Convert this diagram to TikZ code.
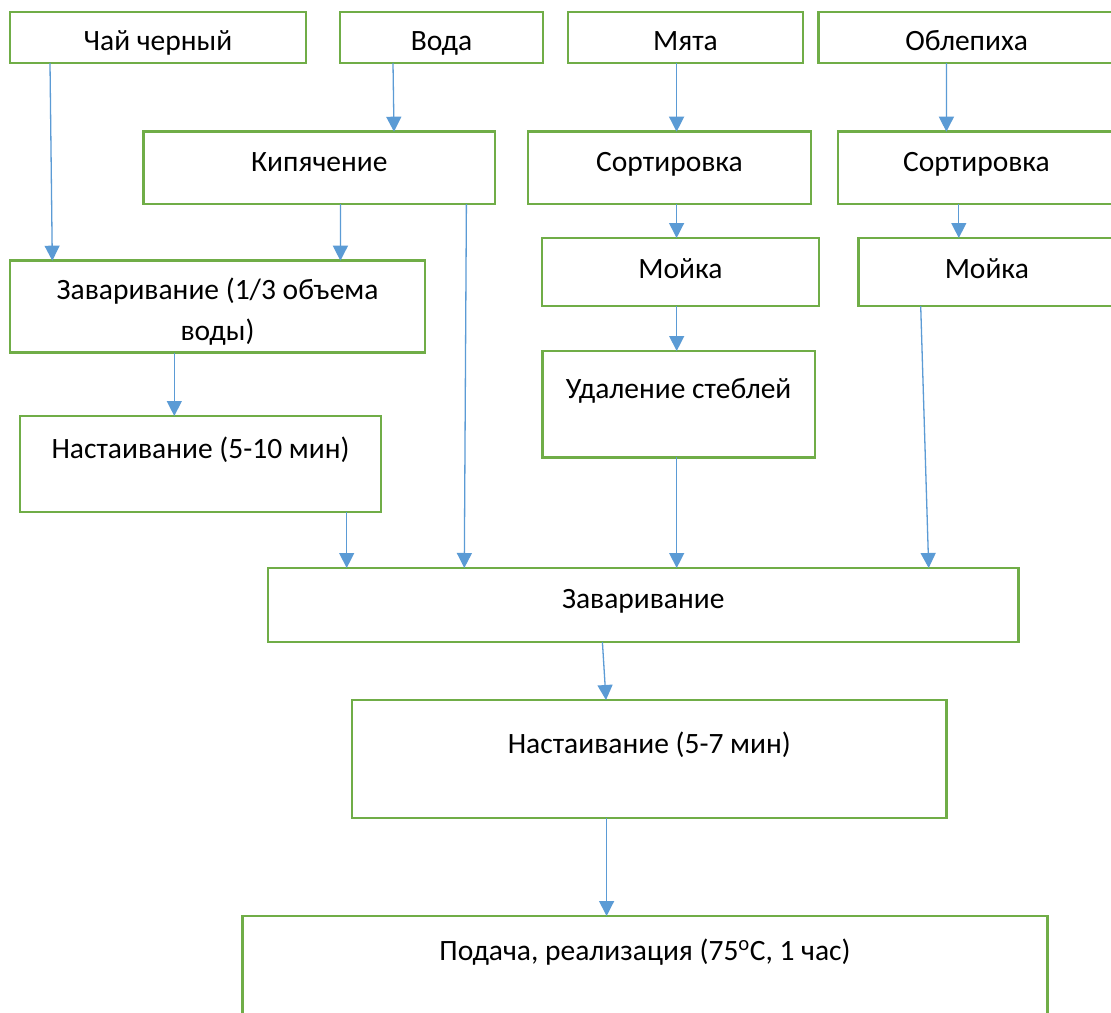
\documentclass[tikz,border=0pt]{standalone}
\usepackage{fontspec}
\setmainfont{Carlito}
\usetikzlibrary{arrows.meta,calc}
\definecolor{boxgreen}{HTML}{70AD47}
\definecolor{flowblue}{HTML}{5B9BD5}
\begin{document}
\begin{tikzpicture}[x=1pt,y=-1pt,
  box/.style={draw=boxgreen, line width=2.8pt, anchor=north west, inner sep=0pt, outer sep=0pt},
  txt/.style={anchor=base, inner sep=0pt, font=\fontsize{29.5}{41}\selectfont, align=center},
  flow/.style={draw=flowblue, line width=1.3pt, -{Triangle[width=15pt,length=15pt]}}]
\clip (0,0) rectangle (1111,1012);
\fill[white] (0,0) rectangle (1111,1012);

% boxes
\node[box, minimum width=296, minimum height=51] (chai) at (10,12) {};
\node[box, minimum width=203, minimum height=51] (voda) at (340,12) {};
\node[box, minimum width=235, minimum height=51] (myata) at (568,12) {};
\node[box, minimum width=296, minimum height=51] (oblep) at (818.6,12) {};
\node[box, minimum width=351.4, minimum height=72.3] (kip) at (143.6,131.7) {};
\node[box, minimum width=283, minimum height=72.3] (sort1) at (528,131.7) {};
\node[box, minimum width=277, minimum height=72.3] (sort2) at (838,131.7) {};
\node[box, minimum width=277, minimum height=68] (moy1) at (542,238) {};
\node[box, minimum width=256.4, minimum height=68] (moy2) at (858.6,238) {};
\node[box, minimum width=415, minimum height=92] (zav1) at (10,260.7) {};
\node[box, minimum width=272.7, minimum height=106.3] (udal) at (542.3,351) {};
\node[box, minimum width=361, minimum height=96] (nast1) at (20,416) {};
\node[box, minimum width=750.5, minimum height=74] (zav) at (268,568) {};
\node[box, minimum width=594.5, minimum height=118] (nast2) at (352,700) {};
\node[box, minimum width=805, minimum height=120] (pod) at (242.5,916) {};

% texts
\node[txt] (tchai) at ($(chai.north)+(0,38)$) {Чай черный};
\node[txt] (tvoda) at ($(voda.north)+(0,38)$) {Вода};
\node[txt] (tmyata) at ($(myata.north)+(0,38)$) {Мята};
\node[txt] (toblep) at ($(oblep.north)+(0,38)$) {Облепиха};
\node[txt] (tkip) at ($(kip.north)+(0,40)$) {Кипячение};
\node[txt] (tsort1) at ($(sort1.north)+(0,40)$) {Сортировка};
\node[txt] (tsort2) at ($(sort2.north)+(0,40)$) {Сортировка};
\node[txt] (tmoy1) at ($(moy1.north)+(0,40)$) {Мойка};
\node[txt] (tmoy2) at ($(moy2.north)+(0,40)$) {Мойка};
\node[txt] (tzav1) at ($(zav1.north)+(0,79.3)$) {Заваривание (1/3 объема\\воды)};
\node[txt] (tudal) at ($(udal.north)+(0,47.3)$) {Удаление стеблей};
\node[txt] (tnast1) at ($(nast1.north)+(0,42)$) {Настаивание (5-10 мин)};
\node[txt] (tzav) at ($(zav.north)+(0,40)$) {Заваривание};
\node[txt] (tnast2) at ($(nast2.north)+(0,53)$) {Настаивание (5-7 мин)};
\node[txt] (tpod) at ($(pod.north)+(0,44)$) {Подача, реализация (75\textsuperscript{o}С, 1 час)};

% connectors
\draw[flow] ($(chai.south west)+(40,0)$) -- ($(zav1.north west)+(42.3,0)$);
\draw[flow] ($(voda.south west)+(53,0)$) -- ($(kip.north west)+(250.4,0)$);
\draw[flow] ($(kip.south west)+(196.8,0)$) -- ($(zav1.north west)+(330.4,0)$);
\draw[flow] ($(kip.south west)+(322.8,0)$) -- ($(zav.north west)+(196.3,0)$);
\draw[flow] ($(myata.south west)+(108.6,0)$) -- ($(sort1.north west)+(148.6,0)$);
\draw[flow] ($(oblep.south west)+(127.8,0)$) -- ($(sort2.north west)+(108.4,0)$);
\draw[flow] ($(sort1.south west)+(148.6,0)$) -- ($(moy1.north west)+(134.6,0)$);
\draw[flow] ($(sort2.south west)+(120.8,0)$) -- ($(moy2.north west)+(100.2,0)$);
\draw[flow] ($(moy1.south west)+(134.7,0)$) -- ($(udal.north west)+(134.4,0)$);
\draw[flow] ($(moy2.south west)+(62.1,0)$) -- ($(zav.north west)+(660.7,0)$);
\draw[flow] ($(udal.south west)+(134.4,0)$) -- ($(zav.north west)+(408.7,0)$);
\draw[flow] ($(zav1.south west)+(164.3,0)$) -- ($(nast1.north west)+(154.3,0)$);
\draw[flow] ($(nast1.south west)+(326.7,0)$) -- ($(zav.north west)+(78.7,0)$);
\draw[flow] ($(zav.south west)+(334.4,0)$) -- ($(nast2.north west)+(254,0)$);
\draw[flow] ($(nast2.south west)+(254.6,0)$) -- ($(pod.north west)+(364.1,0)$);
\end{tikzpicture}
\end{document}
